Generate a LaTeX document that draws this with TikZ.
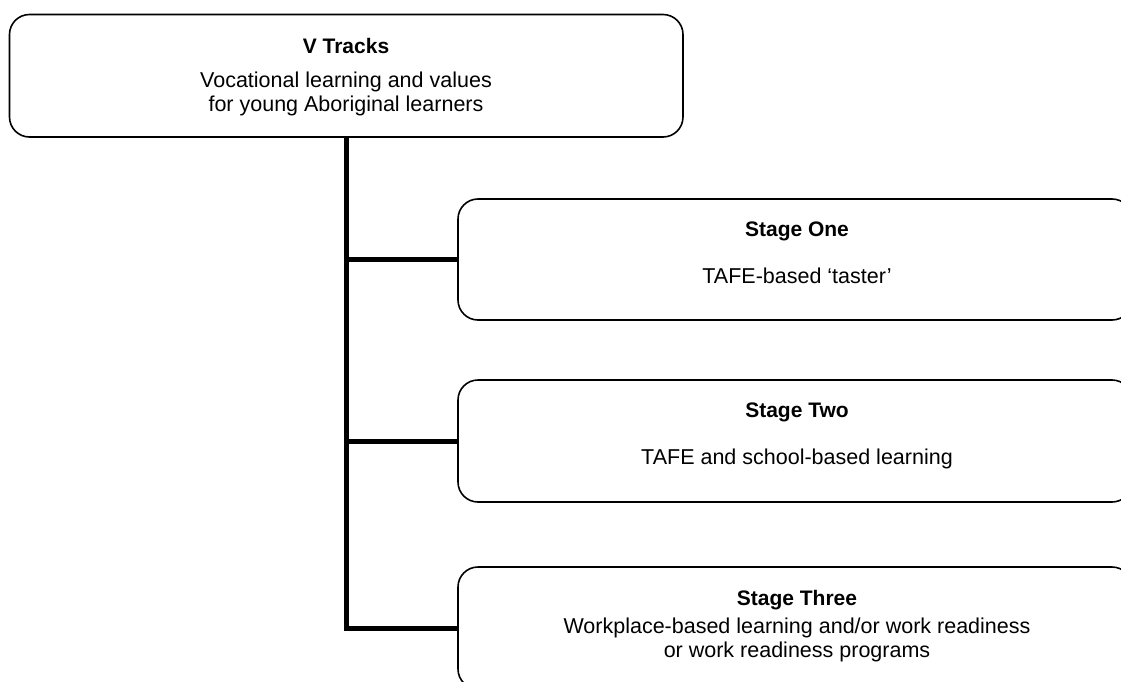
\documentclass[tikz,border=0pt]{standalone}
\usepackage{fontspec}
\setmainfont{Liberation Sans}
\begin{document}
\begin{tikzpicture}[x=1pt,y=-1pt,
  box/.style={draw=black, line width=1.6pt, rounded corners=20pt, fill=white, inner sep=0pt},
  head/.style={font=\fontsize{21}{25}\selectfont\bfseries, anchor=base, inner sep=0pt},
  body/.style={font=\fontsize{21.5}{24}\selectfont, anchor=base, align=center, inner sep=0pt},
  trunk/.style={line width=5pt}]
\useasboundingbox (0,0) rectangle (1121,682);
\clip (0,0) rectangle (1121,682);
% boxes
\node[box, minimum width=673.5pt, minimum height=122.5pt] (top) at (346.25,75.75) {};
\node[box, minimum width=674pt, minimum height=121pt] (s1) at (795,259.5) {};
\node[box, minimum width=674pt, minimum height=122pt] (s2) at (795,441) {};
\node[box, minimum width=674pt, minimum height=122pt] (s3) at (795,628) {};
% connectors
\draw[trunk] (top.south) |- (s3.west);
\draw[trunk] (top.south |- s1.west) -- (s1.west);
\draw[trunk] (top.south |- s2.west) -- (s2.west);
% texts
\node[head] (th) at (346,54) {V Tracks};
\node[body, anchor=north] (tb) at (346,72) {Vocational learning and values\\for young Aboriginal learners};
\node[head] (h1) at (797,236) {Stage One};
\node[body] (b1) at (797,283) {TAFE-based ‘taster’};
\node[head] (h2) at (797,417) {Stage Two};
\node[body] (b2) at (797,464) {TAFE and school-based learning};
\node[head] (h3) at (797,605) {Stage Three};
\node[body, anchor=north] (b3) at (797,618) {Workplace-based learning and/or work readiness\\or work readiness programs};
\end{tikzpicture}
\end{document}
